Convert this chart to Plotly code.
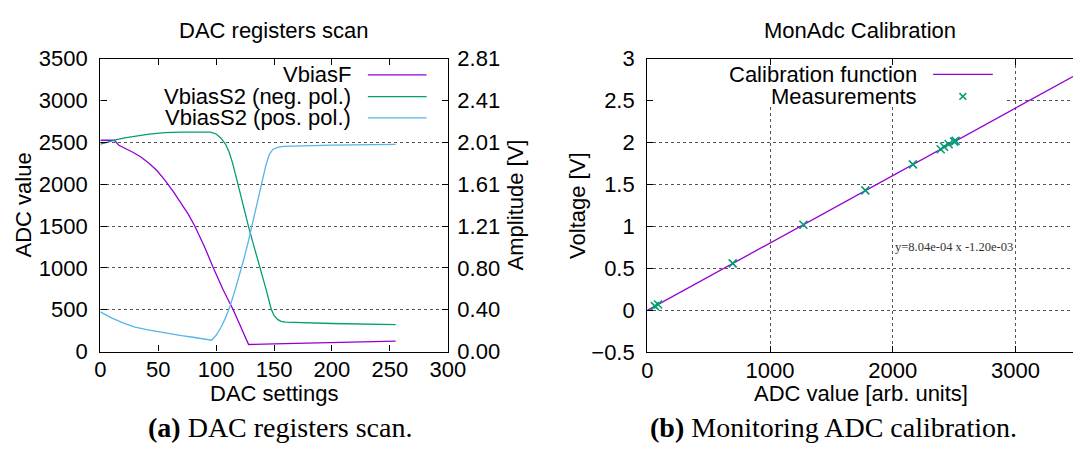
import plotly.graph_objects as go

W, H = 1091, 457

# ---- (a) DAC registers scan: ADC reading vs DAC setting ----
vbiasf_dac = [0, 12, 16, 22, 28, 35, 42, 49, 56, 63, 70, 76, 81.5, 90, 97.6, 106, 114.7, 122, 128, 150, 200, 255]
vbiasf_adc = [2525, 2525, 2465, 2425, 2382, 2325, 2250, 2160, 2043, 1910, 1761, 1640, 1500, 1250, 1000, 740, 500, 270, 85, 92, 108, 125]

neg_dac = [0, 7, 14, 21, 28, 35, 42, 56, 70, 95, 100, 104, 108, 111, 114, 117, 120, 124, 128, 133, 138, 143,
           147.5, 150, 153, 156, 160, 200, 255]
neg_adc = [2480, 2508, 2532, 2552, 2570, 2585, 2597, 2615, 2623, 2623, 2600, 2552, 2480, 2390, 2260, 2100, 1930,
           1720, 1490, 1240, 1000, 750, 510, 430, 385, 362, 352, 336, 323]

pos_dac = [0, 10, 20, 30, 40, 50, 60, 70, 80, 90, 96, 100, 104, 108, 112, 116, 120, 124, 128, 132, 136, 140, 143,
           146, 149, 153, 158, 200, 255]
pos_adc = [475, 400, 340, 293, 262, 237, 212, 192, 172, 152, 136, 195, 285, 400, 545, 720, 910, 1110, 1330, 1560,
           1790, 2030, 2230, 2360, 2415, 2440, 2452, 2466, 2476]

adc_ticks = [0, 500, 1000, 1500, 2000, 2500, 3000, 3500]
dac_ticks = [0, 50, 100, 150, 200, 250, 300]

# ---- (b) monitoring ADC calibration ----
meas_adc = [62, 88, 696, 1272, 1776, 2164, 2390, 2418, 2455, 2500, 2512]
meas_volt = [0.05, 0.07, 0.56, 1.02, 1.43, 1.74, 1.92, 1.95, 1.98, 2.01, 2.02]
SLOPE = 8.04e-4
INTERCEPT = -1.20e-3
adc_range = [0, 3468]
volt_ticks = [-0.5, 0, 0.5, 1, 1.5, 2, 2.5, 3]

PURPLE = "#9400d3"
GREEN = "#009e73"
CYAN = "#56b4e9"
SANS = "Liberation Sans"
SERIF = "Liberation Serif"
FS = 22


def px(x):
    return x / W


def py(y):
    return 1 - y / H


fig = go.Figure()

line_w = 1.3
fig.add_trace(go.Scatter(x=vbiasf_dac, y=vbiasf_adc, mode="lines", line=dict(color=PURPLE, width=line_w),
                         xaxis="x", yaxis="y", showlegend=False))
fig.add_trace(go.Scatter(x=neg_dac, y=neg_adc, mode="lines", line=dict(color=GREEN, width=line_w),
                         xaxis="x", yaxis="y", showlegend=False))
fig.add_trace(go.Scatter(x=pos_dac, y=pos_adc, mode="lines", line=dict(color=CYAN, width=line_w),
                         xaxis="x", yaxis="y", showlegend=False))
# empty trace so the amplitude (y2) axis gets its own subplot and is drawn
fig.add_trace(go.Scatter(x=[], y=[], mode="lines", xaxis="x", yaxis="y2", showlegend=False, hoverinfo="skip"))

# calibration function over the full ADC range
fit_x = adc_range
fit_y = [SLOPE * v + INTERCEPT for v in fit_x]
fig.add_trace(go.Scatter(x=fit_x, y=fit_y, mode="lines", line=dict(color=PURPLE, width=line_w),
                         xaxis="x3", yaxis="y3", showlegend=False))
fig.add_trace(go.Scatter(x=meas_adc, y=meas_volt, mode="markers",
                         marker=dict(symbol="x-thin-open", size=8, color=GREEN, line=dict(color=GREEN, width=1.6)),
                         xaxis="x3", yaxis="y3", showlegend=False))

# plot areas (pixels)
L_X0, L_X1, L_Y0, L_Y1 = 96.5, 451.7, 49.3, 359.3
R_X0, R_X1, R_Y0, R_Y1 = 655.7, 1091, 49.3, 360.0

axis_common = dict(showline=True, linecolor="black", linewidth=1.3, ticks="inside", ticklen=6,
                   tickcolor="black", tickwidth=1.2, tickfont=dict(family=SANS, size=FS, color="black"),
                   zeroline=False)
grid = dict(gridcolor="#555555", gridwidth=1, griddash="dot")

fig.update_layout(
    width=W, height=H, margin=dict(l=0, r=0, t=0, b=0),
    plot_bgcolor="white", paper_bgcolor="white", showlegend=False,
    xaxis=dict(domain=[px(L_X0), px(L_X1)], range=[0, 300], tickvals=dac_ticks, mirror="ticks",
               showgrid=False, anchor="y", ticklabelstandoff=-2, **axis_common),
    yaxis=dict(domain=[py(L_Y1), py(L_Y0)], range=[0, 3500], tickvals=adc_ticks, mirror=True,
               showgrid=True, anchor="x", ticklabelstandoff=7, **grid, **axis_common),
    yaxis2=dict(overlaying="y", side="right", anchor="x", range=[0, 3500 * SLOPE], tick0=0, dtick=500 * SLOPE,
                tickformat=".2f", showgrid=False, ticklabelstandoff=4, **axis_common),
    xaxis3=dict(domain=[px(R_X0), px(R_X1)], range=adc_range, dtick=1000, tick0=0, mirror="ticks",
                showgrid=True, anchor="y3", ticklabelstandoff=-2, **grid, **axis_common),
    yaxis3=dict(domain=[py(R_Y1), py(R_Y0)], range=[-0.5, 3], tickvals=volt_ticks, mirror=False,
                showgrid=True, anchor="x3", ticklabelstandoff=7, **grid, **axis_common),
)

# opaque key boxes hide the grid behind the legends
fig.add_shape(type="rect", xref="x", yref="y", x0=0, x1=300, y0=2680, y1=3500,
              fillcolor="white", line=dict(width=0), layer="between")
fig.add_shape(type="rect", xref="x3", yref="y3", x0=0, x1=2920, y0=2.43, y1=3,
              fillcolor="white", line=dict(width=0), layer="between")

ann = []


def text(x, y, s, size=FS, family=SANS, angle=0, xanchor="center", color="black"):
    ann.append(dict(x=px(x), y=py(y), xref="paper", yref="paper", text=s, showarrow=False,
                    textangle=angle, xanchor=xanchor, yanchor="middle",
                    font=dict(family=family, size=size, color=color)))


# titles and axis labels
text(274, 20, "DAC registers scan")
text(873.5, 20, "MonAdc Calibration")
text(18, 204, "ADC value", angle=-90)
text(521, 204, "Amplitude [V]", angle=-90)
text(274, 404, "DAC settings")
text(585, 205, "Voltage [V]", angle=-90)
text(874, 404, "ADC value [arb. units]")

# captions
text(280, 440, "<b>(a)</b> DAC registers scan.", size=28, family=SERIF)
text(846, 440, "<b>(b)</b> Monitoring ADC calibration.", size=28, family=SERIF)

# legend of panel (a)
keys_a = [("VbiasF", PURPLE, 66.5), ("VbiasS2 (neg. pol.)", GREEN, 89.5), ("VbiasS2 (pos. pol.)", CYAN, 112)]
for label, col, yy in keys_a:
    text(354.5, yy, label, xanchor="right")
    fig.add_shape(type="line", xref="paper", yref="paper", x0=px(370), x1=px(430), y0=py(yy), y1=py(yy),
                  line=dict(color=col, width=line_w))

# legend of panel (b)
text(934, 66, "Calibration function", xanchor="right")
fig.add_shape(type="line", xref="paper", yref="paper", x0=px(948), x1=px(1009), y0=py(66), y1=py(66),
              line=dict(color=PURPLE, width=line_w))
text(934, 89.3, "Measurements", xanchor="right")
for dx, dy in [(-3.5, -3.5), (-3.5, 3.5)]:
    fig.add_shape(type="line", xref="paper", yref="paper", x0=px(978.4 + dx), x1=px(978.4 - dx),
                  y0=py(89.3 + dy), y1=py(89.3 - dy), line=dict(color=GREEN, width=1.6))

# fit equation
ann.append(dict(x=2000, y=0.75, xref="x3", yref="y3", showarrow=False, xanchor="left", yanchor="middle",
                text=f"y={SLOPE:.2e} x {INTERCEPT:.2e}",
                font=dict(family=SERIF, size=12.5, color="#333333")))

fig.update_layout(annotations=ann)
fig.write_html("out.html")
